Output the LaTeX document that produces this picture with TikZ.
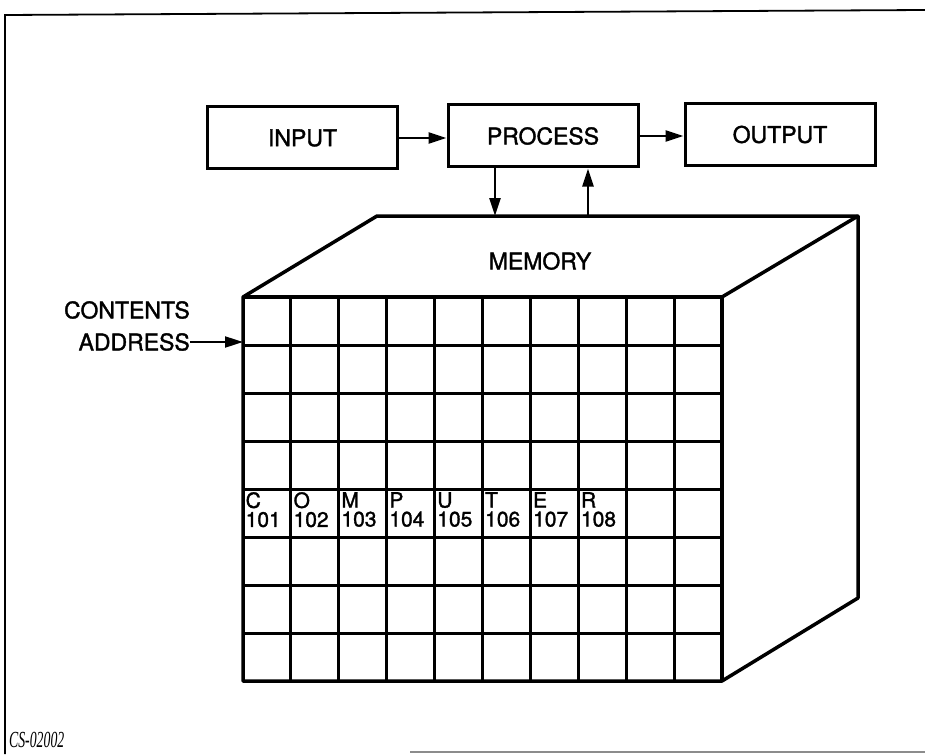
\documentclass[tikz,border=0pt]{standalone}
\usepackage{fontspec}
\setmainfont{TeX Gyre Heros}
\newfontfamily\medfont{TeX Gyre Heros}[FakeBold=1.5]
\newfontfamily\capfont{Liberation Serif}
\usetikzlibrary{arrows.meta}
\begin{document}
\begin{tikzpicture}[x=1pt,y=-1pt,
  box/.style={draw, line width=3pt, minimum width=190pt, minimum height=62pt, inner sep=0pt, font=\medfont\fontsize{23}{24}\selectfont},
  flow/.style={line width=2.4pt, -{Triangle[length=18pt,width=11pt]}},
  cube/.style={line width=3.5pt, line join=round},
  gridline/.style={line width=3pt},
  lbl/.style={font=\medfont\fontsize{23}{24}\selectfont, inner sep=0pt},
  cell/.style={font=\medfont\fontsize{21}{19}\selectfont, inner sep=0pt, anchor=north west, align=left},
  frame/.style={line width=1.8pt}]
\useasboundingbox (0,0) rectangle (925,754);
% frame
\draw[frame] (5,754) -- (5,15) -- (925,10);
\draw[line width=1.2pt, black!45] (410,752) -- (925,752);
% top boxes
\node[box] (input) at (302.5,138) {INPUT};
\node[box] (process) at (543,136) {PROCESS};
\node[box] (output) at (780,134.5) {OUTPUT};
\draw[flow] (input.east) -- (input.east -| process.west);
\draw[flow] (process.east) -- (process.east -| output.west);
% cube corners
\coordinate (ftl) at (243,297);
\coordinate (ftr) at (722,297);
\coordinate (fbr) at (722,681);
\coordinate (fbl) at (243,681);
\coordinate (btl) at (377,216);
\coordinate (btr) at (858,216);
\coordinate (bbr) at (858,598);
% process <-> memory
\coordinate (d1) at (495,216);
\coordinate (u1) at (588,216);
\draw[flow] (process.south -| d1) -- (d1);
\draw[flow] (u1) -- (process.south -| u1);
% grid
\foreach \i in {1,...,9} \draw[gridline] ({243+\i*47.9},297) -- ({243+\i*47.9},681);
\foreach \j in {1,...,7} \draw[gridline] (243,{297+\j*48}) -- (722,{297+\j*48});
% cube outline
\draw[cube] (fbl) -- (ftl) -- (btl) -- (btr) -- (bbr) -- (fbr) -- cycle;
\draw[cube] (ftl) -- (ftr) -- (fbr);
\draw[cube] (ftr) -- (btr);
\node[lbl] (memory) at (540,261) {MEMORY};
% contents / address
\node[lbl, anchor=east] (contents) at (190,310) {CONTENTS};
\node[lbl, anchor=east] (address) at (190,342) {ADDRESS};
\coordinate (addr) at (243,342);
\draw[flow, line width=2pt] (address.east) -- (addr);
% cells
\foreach \L/\N [count=\k from 0] in {C/101,O/102,M/103,P/104,U/105,T/106,E/107,R/108} {
  \node[cell] (c\k) at ({245.5+\k*47.9},492) {\L\\\N};
}
% caption
\node[anchor=base west, inner sep=0pt, font=\capfont\itshape\fontsize{23}{23}\selectfont, xscale=0.6] (cs) at (9,747) {CS-02002};
\end{tikzpicture}
\end{document}
